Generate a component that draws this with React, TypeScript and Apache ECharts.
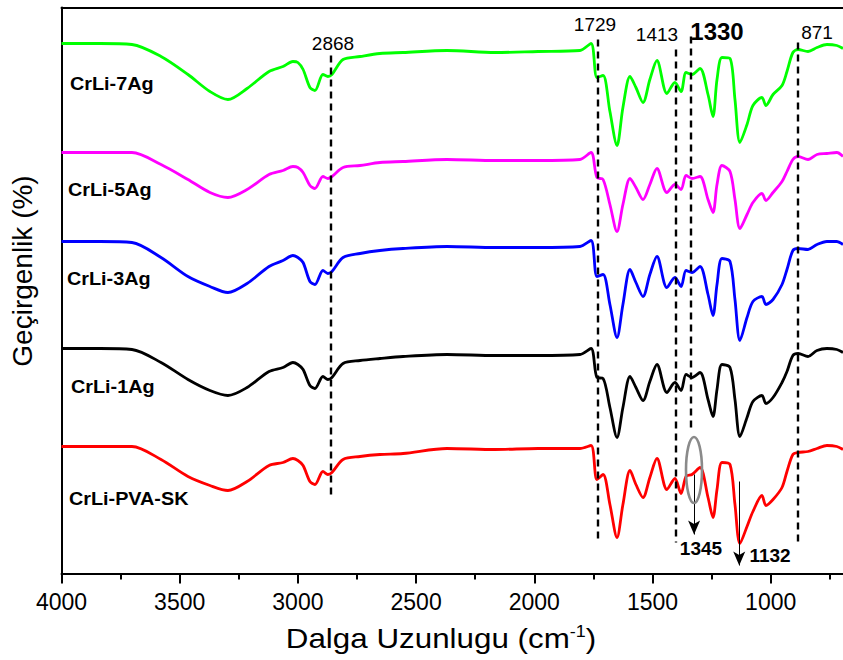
import React, { useEffect, useRef } from "react";
import * as echarts from "echarts";

// Wavenumbers (cm-1) of the sampled points
const wavenumbers = [4000, 3837, 3702, 3579, 3465, 3372, 3296, 3215, 3122, 3063, 3021, 3000, 2978, 2949, 2928, 2894, 2873, 2856, 2809, 2737, 2653, 2555, 2369, 2166, 1984, 1807, 1760, 1735, 1709, 1680, 1650, 1625, 1595, 1570, 1540, 1511, 1481, 1439, 1405, 1379, 1358, 1333, 1299, 1265, 1244, 1227, 1206, 1172, 1151, 1130, 1100, 1075, 1037, 1020, 990, 952, 931, 906, 884, 842, 804, 762, 720, 694];

// Offset transmittance (arbitrary units) for each sample
const crLi7Ag = [530, 530, 529, 517, 499, 482, 474, 485, 502, 507, 512, 511, 504, 486, 483, 499, 497, 499, 514, 517, 520, 521, 523, 521, 522, 523, 530, 496, 498, 462, 428, 466, 497, 486, 471, 494, 513, 480, 491, 482, 501, 499, 505, 479, 457, 494, 516, 515, 474, 431, 449, 468, 476, 468, 479, 488, 502, 521, 524, 522, 526, 529, 528, 525];
const crLi5Ag = [421, 421, 421, 409, 394, 381, 376, 384, 399, 403, 407, 406, 401, 388, 385, 397, 395, 397, 406, 408, 411, 412, 414, 413, 413, 414, 421, 396, 394, 369, 342, 369, 395, 386, 374, 389, 405, 381, 389, 384, 398, 395, 397, 374, 361, 389, 408, 402, 374, 345, 359, 371, 380, 373, 381, 392, 402, 414, 417, 414, 419, 420, 421, 417];
const crLi3Ag = [332, 332, 331, 316, 297, 287, 281, 290, 307, 313, 318, 316, 311, 292, 289, 303, 300, 302, 316, 320, 323, 325, 327, 326, 326, 327, 333, 297, 299, 269, 236, 269, 304, 291, 277, 299, 317, 286, 296, 287, 303, 301, 307, 279, 258, 289, 315, 312, 274, 233, 256, 272, 277, 269, 274, 289, 304, 323, 325, 324, 329, 332, 332, 329];
const crLi1Ag = [225, 225, 224, 211, 194, 183, 178, 186, 202, 206, 211, 209, 204, 188, 185, 197, 194, 196, 210, 213, 215, 217, 219, 218, 218, 219, 225, 196, 195, 166, 136, 166, 197, 186, 173, 192, 209, 181, 191, 183, 199, 196, 201, 174, 157, 184, 209, 206, 174, 137, 156, 172, 178, 170, 176, 191, 202, 218, 220, 217, 223, 225, 224, 221];
const crLiPvaSk = [127, 127, 127, 114, 97, 88, 83, 92, 108, 111, 115, 113, 108, 92, 89, 102, 99, 101, 114, 117, 119, 120, 125, 124, 125, 125, 128, 94, 99, 69, 36, 69, 103, 89, 76, 96, 115, 84, 95, 80, 97, 99, 106, 76, 56, 84, 111, 109, 69, 30, 47, 62, 78, 68, 74, 86, 102, 119, 121, 122, 125, 128, 127, 124];

const seriesNames = ["CrLi-7Ag", "CrLi-5Ag", "CrLi-3Ag", "CrLi-1Ag", "CrLi-PVA-SK"];
const seriesValues = [crLi7Ag, crLi5Ag, crLi3Ag, crLi1Ag, crLiPvaSk];

// Dashed band markers
const markerWavenumbers = [2861, 1732, 1401, 1338, 886];
const markerLabels = ["2868", "1729", "1413", "1330", "871"];
const markerTops = [518, 534, 524, 537, 531];
const markerBottoms = [74, 31, 31, 141, 31];

// Arrows
const arrowWavenumbers = [1324, 1133];
const arrowLabels = ["1345", "1132"];
const arrowStarts = [99, 92];
const arrowEnds = [39, 8];

// Axis ticks
const majorTicks = [4000, 3500, 3000, 2500, 2000, 1500, 1000];
const minorTicks = [3750, 3250, 2750, 2250, 1750, 1250, 750];
const xMin = 694;
const xMax = 4000;

const FONT = "'Liberation Sans', Arial, sans-serif";
const colors = ["#00ff00", "#ff00ff", "#0000ff", "#000000", "#ff0000"];
const labelPos = [
  [70, 84],
  [68, 190],
  [67, 279],
  [71, 387],
  [69, 499],
];
const markerTextPos = [
  { x: 333, y: 43, size: 19, bold: false },
  { x: 595, y: 24, size: 19, bold: false },
  { x: 657, y: 34, size: 19, bold: false },
  { x: 717, y: 31, size: 24, bold: true },
  { x: 817, y: 32, size: 19, bold: false },
];
const arrowTextPos = [
  { x: 701, y: 548 },
  { x: 770, y: 555 },
];

export default function App() {
  const ref = useRef<HTMLDivElement>(null);
  useEffect(() => {
    if (!ref.current) return;
    const chart = echarts.init(ref.current, undefined, { renderer: "svg" });

    const series: any[] = seriesNames.map((name, k) => ({
      name,
      type: "line",
      xAxisIndex: 0,
      data: wavenumbers.map((w, i) => [w, seriesValues[k][i]]),
      showSymbol: false,
      symbol: "none",
      smooth: 0.3,
      lineStyle: { color: colors[k], width: 2.8 },
      itemStyle: { color: colors[k] },
      silent: true,
      z: 2,
    }));

    series[0].markLine = {
      silent: true,
      symbol: ["none", "none"],
      label: { show: false },
      lineStyle: { color: "#000", width: 2.4, type: [7, 5] },
      data: markerWavenumbers.map((w, i) => [
        { coord: [w, markerTops[i]] },
        { coord: [w, markerBottoms[i]] },
      ]),
    };
    series[4].markLine = {
      silent: true,
      symbol: ["none", "arrow"],
      symbolSize: [9, 14],
      label: { show: false },
      lineStyle: { color: "#000", width: 1, type: "solid" },
      data: arrowWavenumbers.map((w, i) => [
        { coord: [w, arrowStarts[i]] },
        { coord: [w, arrowEnds[i]] },
      ]),
    };

    const graphic: any[] = [];
    seriesNames.forEach((n, i) => {
      graphic.push({
        type: "text",
        x: labelPos[i][0],
        y: labelPos[i][1],
        scaleX: 1.1,
        style: {
          text: n,
          fontSize: 18,
          fontWeight: "bold",
          fontFamily: FONT,
          fill: "#000",
          align: "left",
          verticalAlign: "middle",
        },
      });
    });
    markerLabels.forEach((t, i) => {
      const p = markerTextPos[i];
      graphic.push({
        type: "text",
        x: p.x,
        y: p.y,
        style: {
          text: t,
          fontSize: p.size,
          fontWeight: p.bold ? "bold" : "normal",
          fontFamily: FONT,
          fill: "#000",
          align: "center",
          verticalAlign: "middle",
        },
      });
    });
    arrowLabels.forEach((t, i) => {
      graphic.push({
        type: "text",
        x: arrowTextPos[i].x,
        y: arrowTextPos[i].y,
        style: {
          text: t,
          fontSize: 19,
          fontWeight: "bold",
          fontFamily: FONT,
          fill: "#000",
          align: "center",
          verticalAlign: "middle",
        },
      });
    });
    graphic.push({
      type: "ellipse",
      shape: { cx: 694, cy: 470, rx: 8, ry: 33 },
      style: { fill: "none", stroke: "#8a8a8a", lineWidth: 2.6 },
      z: 10,
    });
    graphic.push({
      type: "text",
      x: 22.5,
      y: 271,
      rotation: Math.PI / 2,
      style: {
        text: "Geçirgenlik (%)",
        fontSize: 28,
        fontFamily: FONT,
        fill: "#000",
        align: "center",
        verticalAlign: "middle",
      },
    });
    graphic.push({
      type: "text",
      x: 441,
      y: 638,
      scaleX: 1.12,
      style: {
        text: "{a|Dalga Uzunlugu (cm}{b|-1}{a|)}",
        fill: "#000",
        align: "center",
        verticalAlign: "middle",
        rich: {
          a: { fontSize: 28, fontFamily: FONT, fill: "#000", verticalAlign: "bottom" },
          b: { fontSize: 16, fontFamily: FONT, fill: "#000", verticalAlign: "top" },
        },
      },
    });

    const baseX = {
      type: "value",
      inverse: true,
      min: xMin,
      max: xMax,
      splitLine: { show: false },
    };

    chart.setOption({
      animation: false,
      backgroundColor: "#ffffff",
      grid: {
        left: 61.5,
        top: 7.5,
        right: 0,
        height: 566,
        show: false,
      },
      xAxis: [
        {
          ...baseX,
          position: "bottom",
          axisLine: { show: true, onZero: false, lineStyle: { color: "#000", width: 2 } },
          axisTick: {
            show: true,
            inside: false,
            length: 10,
            customValues: majorTicks,
            lineStyle: { color: "#000", width: 2 },
          },
          axisLabel: {
            show: true,
            fontSize: 23,
            fontFamily: FONT,
            color: "#000",
            margin: 17,
            customValues: majorTicks,
            formatter: (v: number) => String(v),
          },
        },
        {
          ...baseX,
          position: "bottom",
          axisLine: { show: false },
          axisTick: {
            show: true,
            inside: false,
            length: 6,
            customValues: minorTicks,
            lineStyle: { color: "#000", width: 2 },
          },
          axisLabel: { show: false },
        },
        {
          ...baseX,
          position: "top",
          axisLine: { show: true, onZero: false, lineStyle: { color: "#000", width: 2 } },
          axisTick: { show: false },
          axisLabel: { show: false },
        },
      ],
      yAxis: {
        type: "value",
        min: 0,
        max: 566,
        axisLine: { show: true, onZero: false, lineStyle: { color: "#000", width: 2 } },
        axisTick: { show: false },
        axisLabel: { show: false },
        splitLine: { show: false },
      },
      series,
      graphic,
    });
    return () => chart.dispose();
  }, []);
  return (
    <div
      ref={ref}
      style={{ position: "absolute", left: 0, top: 0, width: 843, height: 660, background: "#fff" }}
    />
  );
}
